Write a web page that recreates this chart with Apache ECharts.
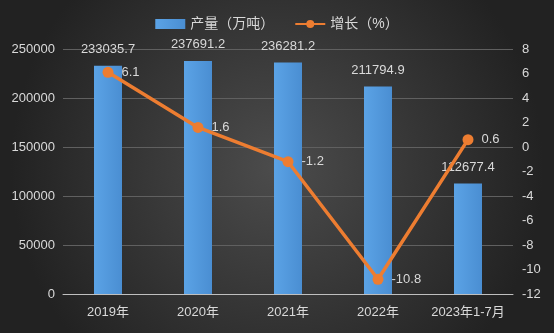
<!DOCTYPE html>
<html><head><meta charset="utf-8">
<script src="https://cdn.jsdelivr.net/npm/echarts@6/dist/echarts.min.js"></script>
<style>html,body{margin:0;padding:0;}#c{width:554px;height:333px;}</style>
</head><body><div id="c"></div>
<script>
const categories = ['2019年','2020年','2021年','2022年','2023年1-7月'];
const output = [233035.7, 237691.2, 236281.2, 211794.9, 112677.4];
const growth = [6.1, 1.6, -1.2, -10.8, 0.6];
const leftTicks = [0, 50000, 100000, 150000, 200000, 250000];
const rightTicks = [-12, -10, -8, -6, -4, -2, 0, 2, 4, 6, 8];

const chart = echarts.init(document.getElementById('c'));
const txt = '#d9d9d9';
const ff = '"Liberation Sans", "Noto Sans CJK SC", sans-serif';
chart.setOption({
  backgroundColor: {type:'radial', x:0.5, y:0.5, r:0.8, colorStops:[{offset:0,color:'#4c4c4c'},{offset:1,color:'#222222'}]},
  textStyle:{fontFamily:ff},
  legend:{top:12, left:'center', itemGap:20, textStyle:{color:txt, fontSize:14, fontFamily:ff}, itemWidth:30, itemHeight:10,
    data:[{name:'产量（万吨）', icon:'rect'},{name:'增长（%）'}]},
  grid:{left:63, right:41, top:49, bottom:39, containLabel:false},
  xAxis:{type:'category', data:categories, axisTick:{show:false},
    axisLine:{lineStyle:{color:'#bfbfbf', width:1}},
    axisLabel:{color:txt, fontSize:13, margin:12, interval:0, fontFamily:ff}},
  yAxis:[
    {type:'value', min:leftTicks[0], max:leftTicks[leftTicks.length-1], interval:50000, axisLine:{show:false}, axisTick:{show:false},
      axisLabel:{color:txt, fontSize:13, margin:8, formatter:v=>String(v)}, splitLine:{lineStyle:{color:'#606060', width:1}}},
    {type:'value', min:rightTicks[0], max:rightTicks[rightTicks.length-1], interval:2, axisLine:{show:false}, axisTick:{show:false},
      axisLabel:{color:txt, fontSize:13, margin:9, formatter:v=>String(v)}, splitLine:{show:false}}
  ],
  series:[
    {name:'产量（万吨）', type:'bar', data:output, barWidth:28, z:2,
      itemStyle:{color:{type:'linear',x:0,y:0,x2:1,y2:0,colorStops:[{offset:0,color:'#5ba3e6'},{offset:1,color:'#4a8ed2'}]}},
      label:{show:true, position:'top', distance:10, color:txt, fontSize:13, fontFamily:ff}},
    {name:'增长（%）', type:'line', yAxisIndex:1, data:growth, z:3,
      symbol:'circle', symbolSize:11, lineStyle:{color:'#ed7d31', width:3.5},
      itemStyle:{color:'#ed7d31'},
      label:{show:true, position:'right', distance:8, color:txt, fontSize:13, fontFamily:ff}}
  ]
});
</script></body></html>
